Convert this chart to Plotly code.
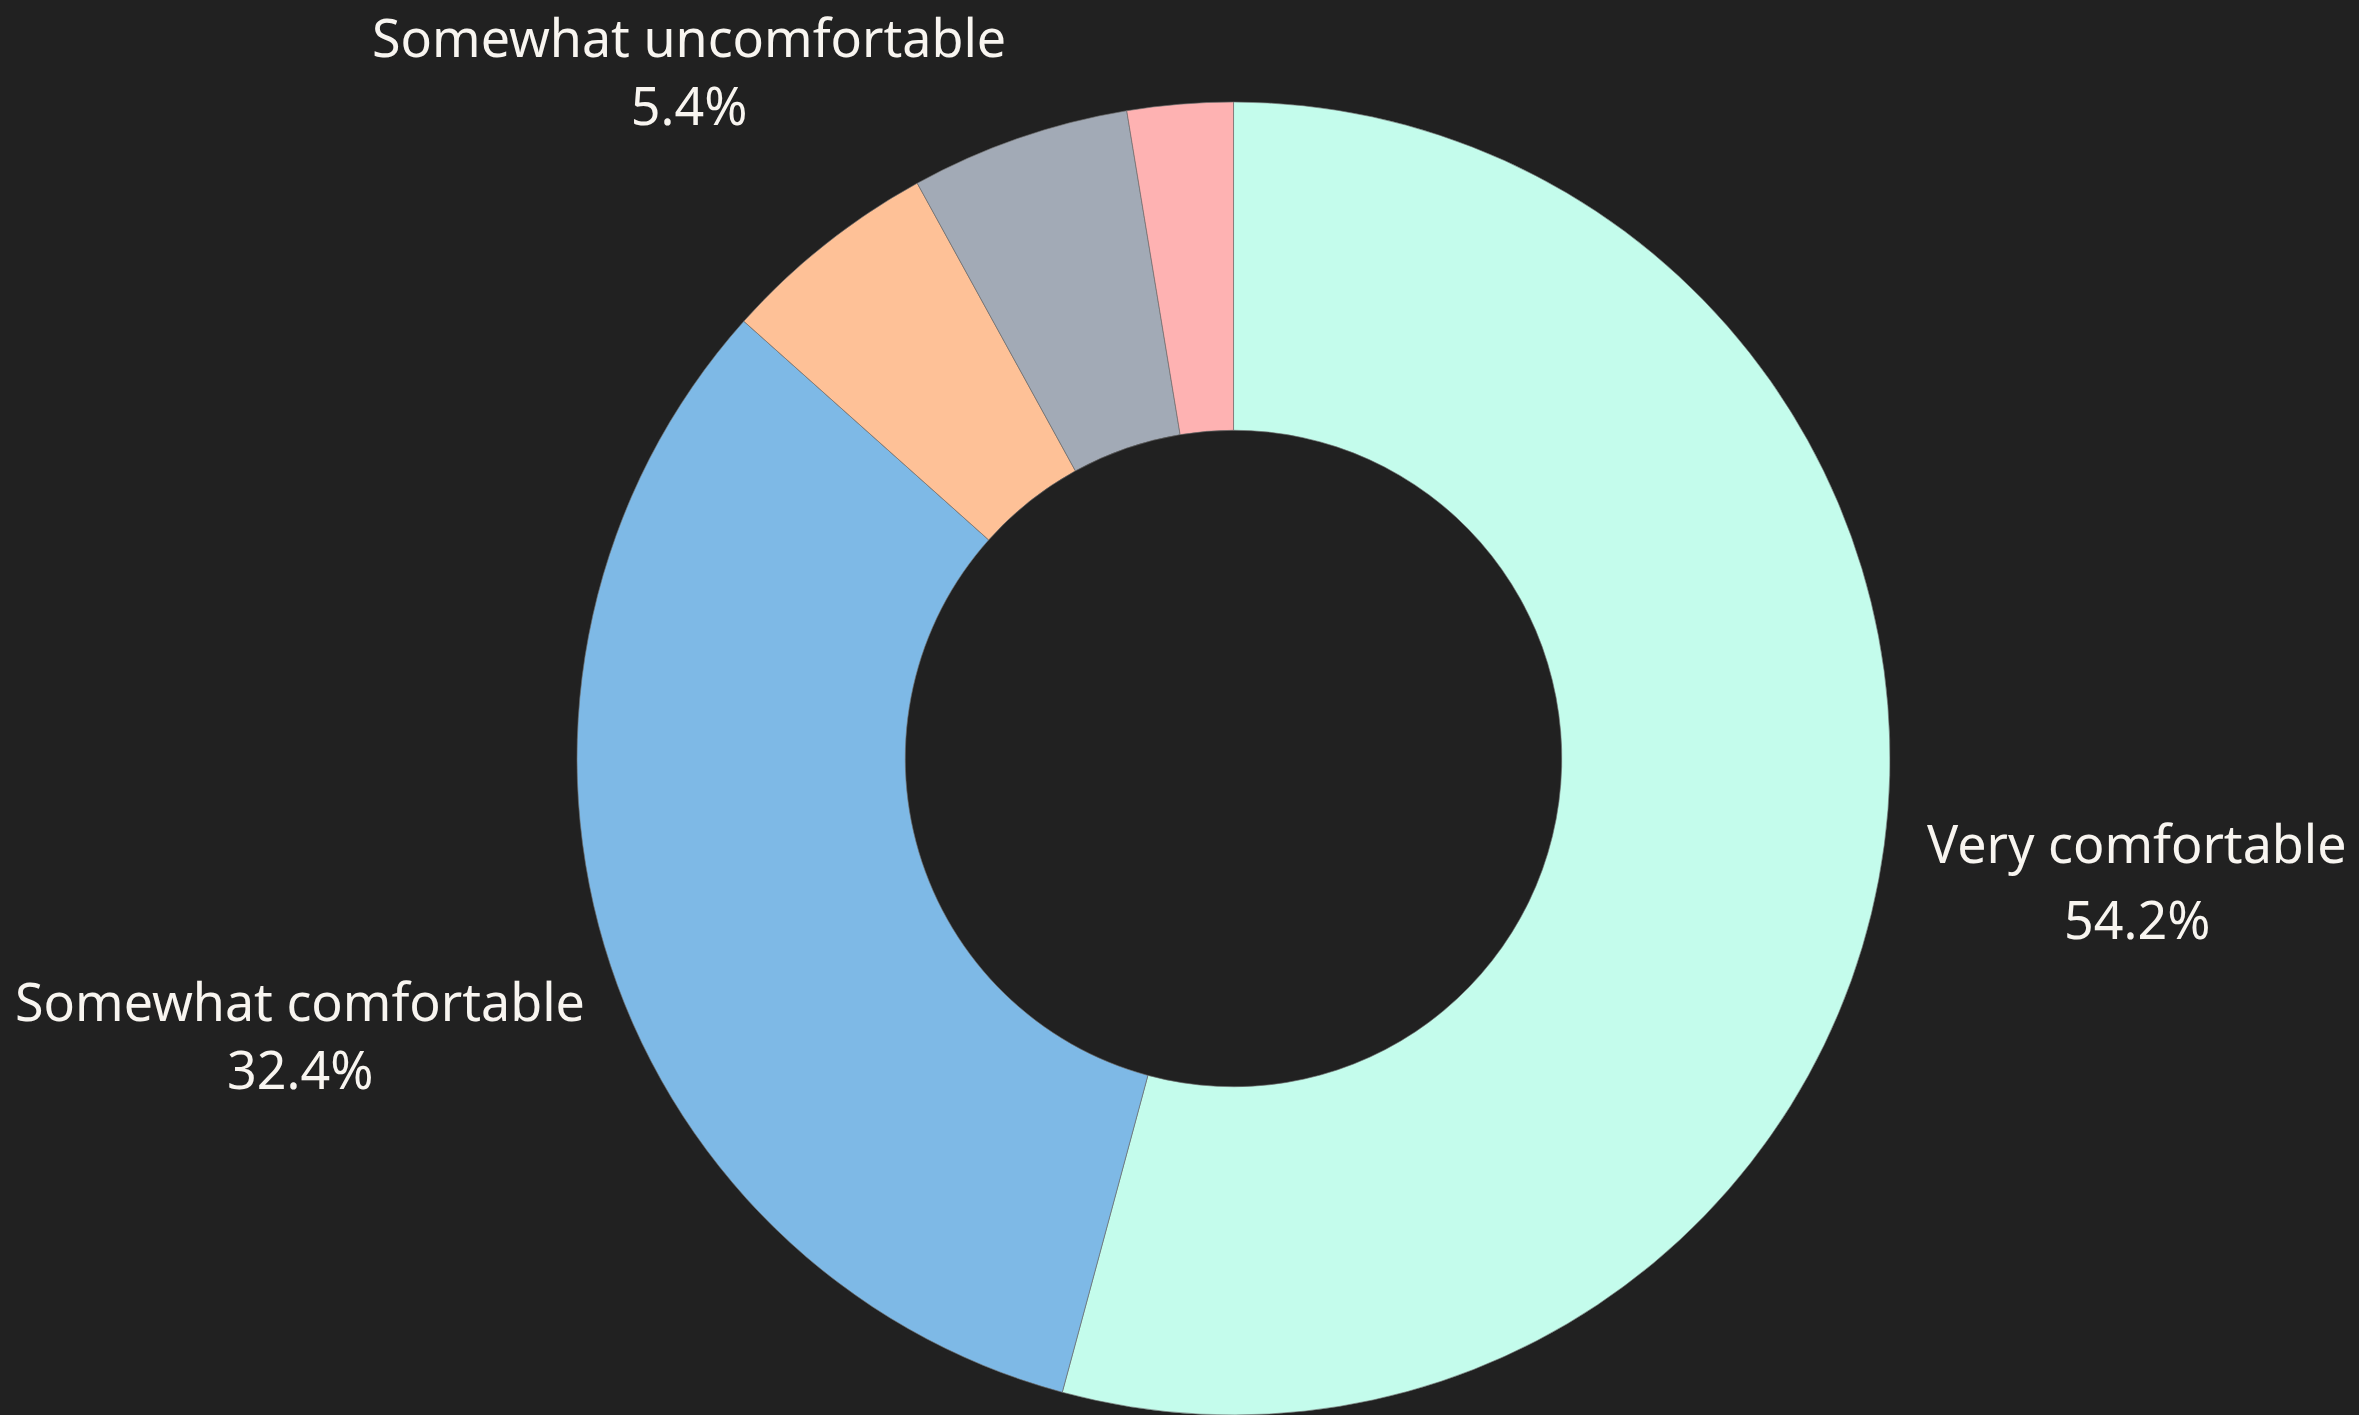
import plotly.graph_objects as go

# Survey responses, in drawing order (clockwise from 12 o'clock)
categories = ["Very comfortable", "Somewhat comfortable", "Neutral",
              "Somewhat uncomfortable", "Very uncomfortable"]
shares = [54.2, 32.4, 5.4, 5.4, 2.6]
colors = ["#C4FCEC", "#7EB9E6", "#FEC197", "#A2AAB6", "#FEB2B2"]

# Categories that get a text label: (x, y of name line, y of percent line) in paper coords.
# A y of None stacks name and percent in one block hung from the top edge.
labelled = {
    "Very comfortable": (0.9060, 0.4049, 0.3512),
    "Somewhat comfortable": (0.1270, 0.2926, 0.2452),
    "Somewhat uncomfortable": (0.2920, None, None),
}

BG = "#212121"
TEXT = "#F8F5F0"
FONT = "Noto Sans"
label_font = dict(family=FONT, size=52, color=TEXT)

fig = go.Figure(
    go.Pie(
        labels=categories,
        values=shares,
        hole=0.5,
        sort=False,
        direction="clockwise",
        rotation=0,
        marker=dict(colors=colors, line=dict(color="rgba(110,110,110,0.8)", width=0.8)),
        textinfo="none",
        hoverinfo="label+percent",
        showlegend=False,
        domain=dict(x=[0.0458, 1.0], y=[0.0, 1 - 102 / 1415]),
    )
)

total = sum(shares)
annotations = []
for name, val in zip(categories, shares):
    if name not in labelled:
        continue
    x, y_name, y_val = labelled[name]
    pct = f"{100 * val / total:.1f}%"
    if y_name is None:
        annotations.append(dict(
            x=x, y=1.0, xref="paper", yref="paper",
            text=f"{name}<br>{pct}", showarrow=False,
            xanchor="center", yanchor="top", borderpad=0,
            font=label_font,
        ))
        continue
    for txt, yy in ((name, y_name), (pct, y_val)):
        annotations.append(dict(
            x=x, y=yy, xref="paper", yref="paper",
            text=txt, showarrow=False,
            xanchor="center", yanchor="middle",
            font=label_font,
        ))

fig.update_layout(
    width=2359,
    height=1415,
    margin=dict(l=0, r=0, t=0, b=0),
    paper_bgcolor=BG,
    plot_bgcolor=BG,
    annotations=annotations,
)

fig.write_html("out.html")
